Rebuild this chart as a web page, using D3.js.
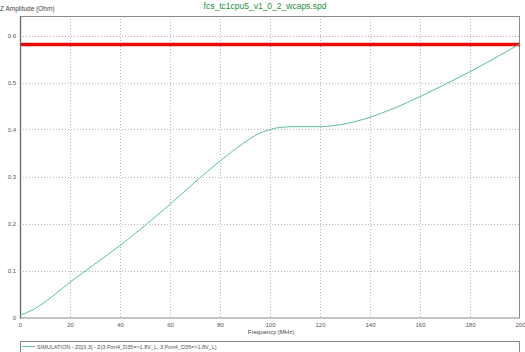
<!DOCTYPE html>
<html>
<head>
<meta charset="utf-8">
<script src="https://cdn.jsdelivr.net/npm/d3@7"></script>
<style>
  body { margin: 0; background: #fff; }
  svg { display: block; font-family: "Liberation Sans", Arial, sans-serif; }
</style>
</head>
<body>
<div id="container"></div>
<script>
const title = "fcs_tc1cpu5_v1_0_2_wcaps.spd"
const yLabel = "Z Amplitude (Ohm)"
const xLabel = "Frequency (MHz)"
const legendText = "SIMULATION - Z0[3,3] - Z(3:Port4_D35=>1.8V_L; 3:Port4_D35=>1.8V_L)"

// frequency (MHz) and impedance (Ohm)
const freq = [0, 5, 10, 20, 30, 40, 50, 60, 70, 80, 90, 95, 100, 105, 110, 120, 130, 140, 150, 160, 170, 180, 190, 200]
const zAmp = [0.005, 0.016, 0.033, 0.075, 0.114, 0.153, 0.196, 0.241, 0.288, 0.333, 0.373, 0.390, 0.400, 0.405, 0.406, 0.406, 0.412, 0.426, 0.446, 0.470, 0.496, 0.523, 0.552, 0.582]
const limit = 0.581

const xTicks = [0, 20, 40, 60, 80, 100, 120, 140, 160, 180, 200]
const yTicks = [0, 0.1, 0.2, 0.3, 0.4, 0.5, 0.6]

const width = 525, height = 352
const plot = { left: 20, right: 520, top: 16, bottom: 317.5 }

const svg = d3.select('#container')
    .append('svg').attr('width', width).attr('height', height)

const x = d3.scaleLinear().domain([0, 200]).range([plot.left, plot.right])
const y = d3.scaleLinear().domain([0, 0.6]).range([plot.bottom, 35.5])

// title + y label
svg.append('text')
    .attr('x', 265).attr('y', 9)
    .attr('text-anchor', 'middle')
    .attr('font-size', 8.5)
    .attr('fill', '#1f8f3f')
    .text(title)

svg.append('text')
    .attr('x', 0).attr('y', 11)
    .attr('font-size', 6.5)
    .attr('fill', '#444')
    .text(yLabel)

// grid
const grid = svg.append('g')
grid.selectAll('.vg')
    .data(xTicks.slice(1, -1))
    .join('line')
    .attr('x1', d => x(d) + 0.5).attr('x2', d => x(d) + 0.5)
    .attr('y1', plot.top).attr('y2', plot.bottom)
    .attr('stroke', '#b8b8b8')
    .attr('stroke-dasharray', '1,2')

grid.selectAll('.hg')
    .data(yTicks.slice(1))
    .join('line')
    .attr('x1', plot.left).attr('x2', plot.right)
    .attr('y1', d => Math.round(y(d)) + 0.5).attr('y2', d => Math.round(y(d)) + 0.5)
    .attr('stroke', d => d === 0.6 ? '#d890c0' : '#b8b8b8')
    .attr('stroke-dasharray', '1,2')

// frame
svg.append('rect')
    .attr('x', plot.left + 0.5).attr('y', plot.top + 0.5)
    .attr('width', plot.right - plot.left - 1).attr('height', plot.bottom - plot.top)
    .attr('fill', 'none')
    .attr('stroke', '#8a8a8a')

svg.append('line')
    .attr('x1', plot.left + 0.5).attr('x2', plot.left + 0.5)
    .attr('y1', plot.top).attr('y2', plot.bottom + 1)
    .attr('stroke', '#666')
    .attr('stroke-width', 1.3)

// axes
const xAxis = d3.axisBottom(x).tickValues(xTicks).tickSize(0).tickPadding(5).tickFormat(d3.format('d'))
const gx = svg.append('g').attr('transform', `translate(0,${plot.bottom})`).call(xAxis)
gx.select('.domain').remove()
gx.selectAll('text').attr('font-size', 6).attr('fill', '#555').attr('font-family', '"Liberation Sans", Arial, sans-serif')

const yAxis = d3.axisLeft(y).tickValues(yTicks).tickSize(0).tickPadding(4).tickFormat(d => d === 0 ? '0' : d3.format('.1f')(d))
const gy = svg.append('g').attr('transform', `translate(${plot.left},0)`).call(yAxis)
gy.select('.domain').remove()
gy.selectAll('text').attr('font-size', 6).attr('fill', '#555').attr('font-family', '"Liberation Sans", Arial, sans-serif')

svg.append('text')
    .attr('x', 271).attr('y', 334)
    .attr('text-anchor', 'middle')
    .attr('font-size', 6)
    .attr('fill', '#444')
    .text(xLabel)

// limit line
svg.append('line')
    .attr('x1', plot.left + 1).attr('x2', plot.right)
    .attr('y1', y(limit)).attr('y2', y(limit))
    .attr('stroke', '#e80a0a')
    .attr('stroke-width', 3.5)

// impedance curve
const pts = freq.map((f, i) => [f, zAmp[i]])
const line = d3.line()
    .x(d => x(d[0]))
    .y(d => y(d[1]))
    .curve(d3.curveMonotoneX)

svg.append('path')
    .datum(pts)
    .attr('d', line)
    .attr('fill', 'none')
    .attr('stroke', '#5fbf9c')
    .attr('stroke-width', 1)

// legend
const lg = svg.append('g')
lg.append('rect')
    .attr('x', plot.left + 0.5).attr('y', 341.5)
    .attr('width', plot.right - plot.left - 1).attr('height', 20)
    .attr('fill', '#fff')
    .attr('stroke', '#8a8a8a')
lg.append('line')
    .attr('x1', 22).attr('x2', 35)
    .attr('y1', 346.5).attr('y2', 346.5)
    .attr('stroke', '#5fbf9c')
lg.append('text')
    .attr('x', 37).attr('y', 348.5)
    .attr('font-size', 5.5)
    .attr('fill', '#555')
    .text(legendText)
</script>
</body>
</html>
